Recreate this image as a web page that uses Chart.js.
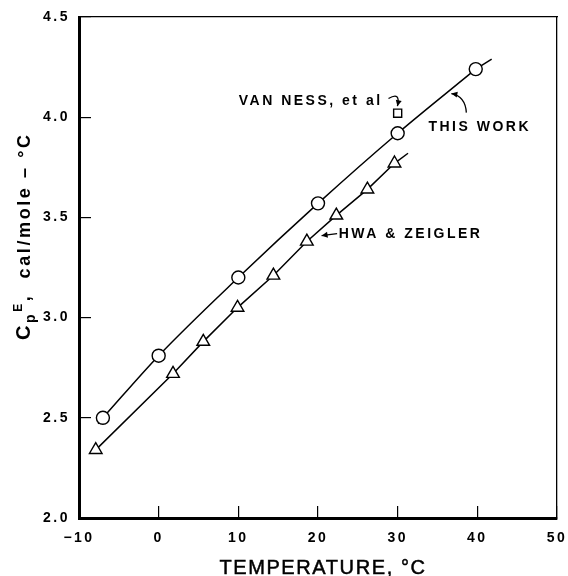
<!DOCTYPE html>
<html>
<head>
<meta charset="utf-8">
<script src="https://cdn.jsdelivr.net/npm/chart.js@4.4.1/dist/chart.umd.min.js"></script>
<style>
  html, body { margin: 0; padding: 0; background: #fff; }
  #chart { display: block; }
</style>
</head>
<body>
<canvas id="chart" width="568" height="576"></canvas>
<script>
// data
const thisWorkT = [-7, 0, 10, 20, 30, 39.8];
const thisWorkCp = [2.50, 2.81, 3.20, 3.57, 3.92, 4.24];

const hwaT = [-7.9, 1.8, 5.6, 9.9, 14.4, 18.6, 22.3, 26.2, 29.6];
const hwaCp = [2.34, 2.72, 2.88, 3.05, 3.21, 3.38, 3.51, 3.64, 3.77];

const vanNessT = [30];
const vanNessCp = [4.02];

// where the drawn curves run past the end points
const thisWorkStartT = [-7.6, -7];
const thisWorkStartCp = [2.47, 2.50];
const thisWorkEndT = [39.8, 41.8];
const thisWorkEndCp = [4.24, 4.29];
const hwaEndT = [29.6, 31.3];
const hwaEndCp = [3.77, 3.82];

const xTicks = [-10, 0, 10, 20, 30, 40, 50];
const yTicks = [2.0, 2.5, 3.0, 3.5, 4.0, 4.5];

// labels on the plot, in data units (left edge, middle)
const noteText = ['VAN NESS, et al', 'THIS WORK', 'HWA & ZEIGLER'];
const noteT = [10.05, 33.86, 22.6];
const noteCp = [4.078, 3.948, 3.414];

// curved arrows: start, control, end (arrow head at end)
const arrows = [
    [[28.85, 4.093], [30.4, 4.13], [29.97, 4.055]],
    [[38.62, 4.023], [38.5, 4.105], [36.74, 4.118]],
    [[22.4, 3.419], [21.4, 3.415], [20.45, 3.409]]
];

const FONT = "'Liberation Sans', Arial, Helvetica, sans-serif";

const pts = (xs, ys) => xs.map((x, i) => ({ x: x, y: ys[i] }));

function arrowHead(ctx, x, y, fromX, fromY) {
    const a = Math.atan2(y - fromY, x - fromX);
    const len = 6, w = 3;
    ctx.beginPath();
    ctx.moveTo(x, y);
    ctx.lineTo(x - len * Math.cos(a) + w * Math.sin(a), y - len * Math.sin(a) - w * Math.cos(a));
    ctx.lineTo(x - len * Math.cos(a) - w * Math.sin(a), y - len * Math.sin(a) + w * Math.cos(a));
    ctx.closePath();
    ctx.fill();
}

// fixed axis sizes, and no extra room for the tick labels
function fixSize(size) {
    return s => {
        if (s.isHorizontal()) s.height = size; else s.width = size;
        s.paddingLeft = s.paddingRight = s.paddingTop = s.paddingBottom = 0;
    };
}

const spacingPlugin = {
    id: 'spacing',
    beforeDraw(chart) {
        chart.ctx.letterSpacing = '2.5px';
    }
};

const notesPlugin = {
    id: 'notes',
    afterDraw(chart) {
        const ctx = chart.ctx;
        const xs = chart.scales.x, ys = chart.scales.y;
        ctx.save();
        ctx.fillStyle = '#000';
        ctx.strokeStyle = '#000';
        ctx.letterSpacing = '2.5px';
        ctx.font = 'bold 14px ' + FONT;
        ctx.textAlign = 'left';
        ctx.textBaseline = 'middle';
        noteText.forEach((t, i) => {
            ctx.fillText(t, xs.getPixelForValue(noteT[i]), ys.getPixelForValue(noteCp[i]));
        });

        ctx.lineWidth = 1.3;
        arrows.forEach(a => {
            const p = a.map(q => [xs.getPixelForValue(q[0]), ys.getPixelForValue(q[1])]);
            ctx.beginPath();
            ctx.moveTo(p[0][0], p[0][1]);
            ctx.quadraticCurveTo(p[1][0], p[1][1], p[2][0], p[2][1]);
            ctx.stroke();
            arrowHead(ctx, p[2][0], p[2][1], p[1][0], p[1][1]);
        });

        // x axis title
        ctx.letterSpacing = '1.6px';
        ctx.font = '20px ' + FONT;
        ctx.textAlign = 'center';
        ctx.textBaseline = 'alphabetic';
        ctx.lineWidth = 0.5;
        const tx = (chart.chartArea.left + chart.chartArea.right) / 2 + 5;
        ctx.fillText('TEMPERATURE, °C', tx, 574);
        ctx.strokeText('TEMPERATURE, °C', tx, 574);

        // y axis title: C_p^E, cal/mole - °C
        ctx.letterSpacing = '2.6px';
        ctx.translate(30, 340);
        ctx.rotate(-Math.PI / 2);
        ctx.textAlign = 'left';
        let x = 0;
        ctx.font = 'bold 20px ' + FONT;
        ctx.fillText('C', x, 0);
        x += ctx.measureText('C').width;
        ctx.font = 'bold 14px ' + FONT;
        ctx.fillText('p', x, 5);
        x += ctx.measureText('p').width;
        ctx.font = 'bold 12px ' + FONT;
        ctx.fillText('E', x, -8);
        x += ctx.measureText('E').width;
        ctx.font = 'bold 18px ' + FONT;
        ctx.fillText(',  cal/mole – °C', x, 0);
        ctx.restore();
    }
};

const axisBase = {
    type: 'linear',
    grid: { drawOnChartArea: false, drawTicks: true, tickLength: -12, color: '#000', lineWidth: 1.2 },
    border: { color: '#000', width: 3 },
    ticks: { color: '#000', font: { family: FONT, size: 14, weight: 'bold' } }
};

new Chart(document.getElementById('chart'), {
    type: 'scatter',
    data: {
        datasets: [
            {
                label: 'This work',
                data: pts(thisWorkT, thisWorkCp),
                showLine: true,
                cubicInterpolationMode: 'monotone',
                borderColor: '#000',
                borderWidth: 1.5,
                pointStyle: 'circle',
                pointRadius: 6.5,
                pointBackgroundColor: '#fff',
                pointBorderColor: '#000',
                pointBorderWidth: 1.4
            },
            {
                label: 'Hwa & Zeigler',
                data: pts(hwaT, hwaCp),
                showLine: true,
                borderColor: '#000',
                borderWidth: 1.5,
                pointStyle: 'triangle',
                pointRadius: 7.3,
                pointBackgroundColor: '#fff',
                pointBorderColor: '#000',
                pointBorderWidth: 1.4
            },
            {
                label: 'Van Ness, et al',
                data: pts(vanNessT, vanNessCp),
                showLine: false,
                pointStyle: 'rect',
                pointRadius: 5.7,
                pointBackgroundColor: '#fff',
                pointBorderColor: '#000',
                pointBorderWidth: 1.4
            },
            { data: pts(thisWorkStartT, thisWorkStartCp), showLine: true, borderColor: '#000', borderWidth: 1.5, pointRadius: 0 },
            { data: pts(thisWorkEndT, thisWorkEndCp), showLine: true, borderColor: '#000', borderWidth: 1.5, pointRadius: 0 },
            { data: pts(hwaEndT, hwaEndCp), showLine: true, borderColor: '#000', borderWidth: 1.5, pointRadius: 0 }
        ]
    },
    options: {
        responsive: false,
        animation: false,
        events: [],
        layout: { autoPadding: false, padding: { top: 17, right: 11, left: 0, bottom: 0 } },
        plugins: { legend: { display: false }, tooltip: { enabled: false } },
        scales: {
            x: {
                ...axisBase,
                position: 'bottom',
                min: xTicks[0],
                max: xTicks[xTicks.length - 1],
                afterBuildTicks: s => { s.ticks = xTicks.map(v => ({ value: v })); },
                ticks: { ...axisBase.ticks, padding: 24, maxRotation: 0,
                    callback: v => (v < 0 ? '−' + Math.abs(v) : String(v)) },
                afterFit: fixSize(58)
            },
            y: {
                ...axisBase,
                position: 'left',
                min: yTicks[0],
                max: yTicks[yTicks.length - 1],
                afterBuildTicks: s => { s.ticks = yTicks.map(v => ({ value: v })); },
                ticks: { ...axisBase.ticks, padding: 21, callback: v => Number(v).toFixed(1) },
                afterFit: fixSize(79)
            },
            x2: {
                type: 'linear',
                axis: 'x',
                position: 'top',
                min: xTicks[0],
                max: xTicks[xTicks.length - 1],
                grid: { display: false },
                ticks: { display: false },
                border: { color: '#000', width: 1.3 },
                afterFit: fixSize(0)
            },
            y2: {
                type: 'linear',
                axis: 'y',
                position: 'right',
                min: yTicks[0],
                max: yTicks[yTicks.length - 1],
                grid: { display: false },
                ticks: { display: false },
                border: { color: '#000', width: 1.3 },
                afterFit: fixSize(0)
            }
        }
    },
    plugins: [spacingPlugin, notesPlugin]
});
</script>
</body>
</html>
